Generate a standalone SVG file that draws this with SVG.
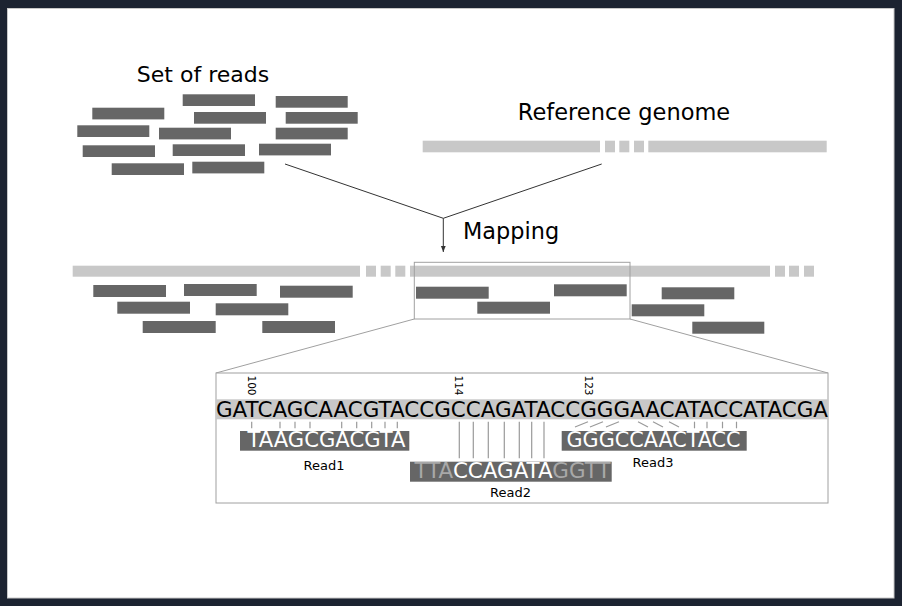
<svg xmlns="http://www.w3.org/2000/svg" width="902" height="606" viewBox="0 0 902 606">
<defs>
<style>
.t{font-family:"DejaVu Sans","Liberation Sans",sans-serif;fill:#000}
.rd{fill:#666666}
.gn{fill:#c8c8c8}
.conn{stroke:#333;stroke-width:1;fill:none}
.zoom{stroke:#a0a0a0;stroke-width:1;fill:none}
.tk{stroke:#9a9a9a;stroke-width:1.2}
.seq{font-family:"DejaVu Sans","Liberation Sans",sans-serif;font-size:20.9px}
.lbl{font-family:"DejaVu Sans","Liberation Sans",sans-serif;font-size:13px;fill:#000;text-anchor:middle}
.num{font-family:"DejaVu Sans","Liberation Sans",sans-serif;font-size:10.5px;fill:#000}
</style>
<marker id="ah" viewBox="0 0 10 10" refX="10" refY="5" markerWidth="6" markerHeight="6" orient="auto" markerUnits="userSpaceOnUse">
<path d="M0,1 L10,5 L0,9 z" fill="#333"/>
</marker>
</defs>
<rect x="0" y="0" width="902" height="606" fill="#1c2331"/>
<rect x="7.5" y="8.5" width="886.5" height="589.5" fill="#ffffff" stroke="#c8c8c8" stroke-width="1"/>

<g id="set-of-reads">
<text class="t" x="203" y="82" font-size="22" text-anchor="middle">Set of reads</text>
<rect class="rd" x="182.7" y="94.3" width="72.3" height="11.7"/>
<rect class="rd" x="275.7" y="96" width="72" height="11.7"/>
<rect class="rd" x="92.3" y="107.7" width="72" height="11.7"/>
<rect class="rd" x="194" y="112" width="72" height="11.7"/>
<rect class="rd" x="285.7" y="112" width="72" height="11.7"/>
<rect class="rd" x="77.3" y="125.3" width="72" height="11.7"/>
<rect class="rd" x="159" y="127.7" width="72" height="11.7"/>
<rect class="rd" x="275.7" y="127.7" width="72" height="11.7"/>
<rect class="rd" x="82.7" y="145.3" width="72.3" height="11.7"/>
<rect class="rd" x="172.7" y="144.3" width="72.3" height="11.7"/>
<rect class="rd" x="259" y="143.7" width="72" height="11.7"/>
<rect class="rd" x="111.7" y="163.3" width="72.3" height="11.7"/>
<rect class="rd" x="192.3" y="161.7" width="72" height="11.7"/>
</g>

<g id="reference-genome">
<text class="t" x="624" y="120" font-size="22.5" text-anchor="middle">Reference genome</text>
<rect class="gn" x="422.7" y="140.7" width="177.3" height="11.6"/>
<rect class="gn" x="605" y="140.7" width="10" height="11.6"/>
<rect class="gn" x="619.3" y="140.7" width="10" height="11.6"/>
<rect class="gn" x="634" y="140.7" width="10" height="11.6"/>
<rect class="gn" x="648.3" y="140.7" width="178.4" height="11.6"/>
</g>

<g id="mapping">
<text class="t" x="463" y="239" font-size="22.4">Mapping</text>
</g>

<g id="mapped-genome">
<rect class="gn" x="72.7" y="265.7" width="287.3" height="11"/>
<rect class="gn" x="366" y="265.7" width="10" height="11"/>
<rect class="gn" x="380.7" y="265.7" width="10" height="11"/>
<rect class="gn" x="395.3" y="265.7" width="10" height="11"/>
<rect class="gn" x="410" y="265.7" width="360" height="11"/>
<rect class="gn" x="775" y="265.7" width="10" height="11"/>
<rect class="gn" x="789" y="265.7" width="10" height="11"/>
<rect class="gn" x="804" y="265.7" width="10" height="11"/>
<rect class="rd" x="93.3" y="285" width="72.7" height="12"/>
<rect class="rd" x="184" y="284" width="72.7" height="12"/>
<rect class="rd" x="280" y="285.7" width="72.7" height="12"/>
<rect class="rd" x="117.3" y="301.7" width="72.7" height="12"/>
<rect class="rd" x="215.7" y="303.3" width="72.6" height="12"/>
<rect class="rd" x="142.7" y="321" width="73" height="12"/>
<rect class="rd" x="262.3" y="321" width="72.7" height="12"/>
<rect class="rd" x="416" y="286.7" width="72.7" height="12"/>
<rect class="rd" x="554" y="284.3" width="72.7" height="12"/>
<rect class="rd" x="477.3" y="301.7" width="72.7" height="12"/>
<rect class="rd" x="661.7" y="287.3" width="72.6" height="12"/>
<rect class="rd" x="631.7" y="304.3" width="72.6" height="12"/>
<rect class="rd" x="692.3" y="321.7" width="72" height="12"/>
</g>

<g id="connectors">
<polyline class="conn" points="285,164 443.3,218.3 601.7,164"/>
<line class="conn" x1="443.3" y1="218.3" x2="443.3" y2="252" marker-end="url(#ah)"/>
<rect class="zoom" x="414.3" y="262.3" width="215.7" height="56.7"/>
<line class="zoom" x1="414.3" y1="319" x2="216" y2="373"/>
<line class="zoom" x1="630" y1="319" x2="828" y2="373"/>
</g>

<g id="detail">
<rect x="216" y="373" width="612" height="130" fill="#ffffff" stroke="#a0a0a0" stroke-width="1"/>
<text class="num" transform="translate(247.5,375.5) rotate(90)">100</text>
<text class="num" transform="translate(455,375.5) rotate(90)">114</text>
<text class="num" transform="translate(585,375.5) rotate(90)">123</text>
<rect class="gn" x="216" y="399.3" width="612" height="20"/>
<text class="seq" x="216" y="416.5" textLength="612" lengthAdjust="spacingAndGlyphs" fill="#000">GATCAGCAACGTACCGCCAGATACCGGGAACATACCATACGA</text>
</g>

<g id="alignment-ticks">
<g class="tk">
<line x1="251.7" y1="421.7" x2="251.7" y2="428.3"/>
<line x1="280" y1="421.7" x2="280" y2="428.3"/>
<line x1="295" y1="421.7" x2="295" y2="428.3"/>
<line x1="310" y1="421.7" x2="310" y2="428.3"/>
<line x1="341.7" y1="421.7" x2="341.7" y2="428.3"/>
<line x1="356.7" y1="421.7" x2="356.7" y2="428.3"/>
<line x1="371.7" y1="421.7" x2="371.7" y2="428.3"/>
<line x1="385" y1="421.7" x2="385" y2="428.3"/>
<line x1="397.3" y1="421.7" x2="397.3" y2="428.3"/>
<line x1="459.3" y1="421.7" x2="459.3" y2="458.3"/>
<line x1="473.3" y1="421.7" x2="473.3" y2="458.3"/>
<line x1="488.3" y1="421.7" x2="488.3" y2="458.3"/>
<line x1="504.3" y1="421.7" x2="504.3" y2="458.3"/>
<line x1="519.3" y1="421.7" x2="519.3" y2="458.3"/>
<line x1="531.7" y1="421.7" x2="531.7" y2="458.3"/>
<line x1="544" y1="421.7" x2="544" y2="458.3"/>
<line x1="575" y1="427" x2="588" y2="421.7"/>
<line x1="590" y1="427" x2="603" y2="421.7"/>
<line x1="606" y1="427" x2="619" y2="421.7"/>
<line x1="638" y1="421.7" x2="648" y2="427"/>
<line x1="653" y1="421.7" x2="663" y2="427"/>
<line x1="669" y1="421.7" x2="679" y2="427"/>
<line x1="694.5" y1="421.7" x2="694.5" y2="428.3"/>
<line x1="707" y1="421.7" x2="707" y2="428.3"/>
<line x1="722.5" y1="421.7" x2="722.5" y2="428.3"/>
<line x1="736.5" y1="421.7" x2="736.5" y2="428.3"/>
</g>
</g>

<g id="read1">
<rect class="rd" x="240" y="431" width="169.3" height="19.7"/>
<text class="seq" x="247.5" y="447" textLength="158" lengthAdjust="spacingAndGlyphs" fill="#ffffff">TAAGCGACGTA</text>
<text class="lbl" x="324" y="470">Read1</text>
</g>

<g id="read2">
<rect class="rd" x="410" y="461.7" width="201.7" height="20"/>
<text class="seq" x="414.5" y="478.3" textLength="196" lengthAdjust="spacingAndGlyphs" fill="#a8a8a8">TTA<tspan fill="#ffffff">CCAGATA</tspan>GGTT</text>
<text class="lbl" x="510.5" y="497">Read2</text>
</g>

<g id="read3">
<rect class="rd" x="561.7" y="431" width="185" height="19.7"/>
<text class="seq" x="566.5" y="447" textLength="174" lengthAdjust="spacingAndGlyphs" fill="#ffffff">GGGCCAACTACC</text>
<text class="lbl" x="653" y="467">Read3</text>
</g>
</svg>
